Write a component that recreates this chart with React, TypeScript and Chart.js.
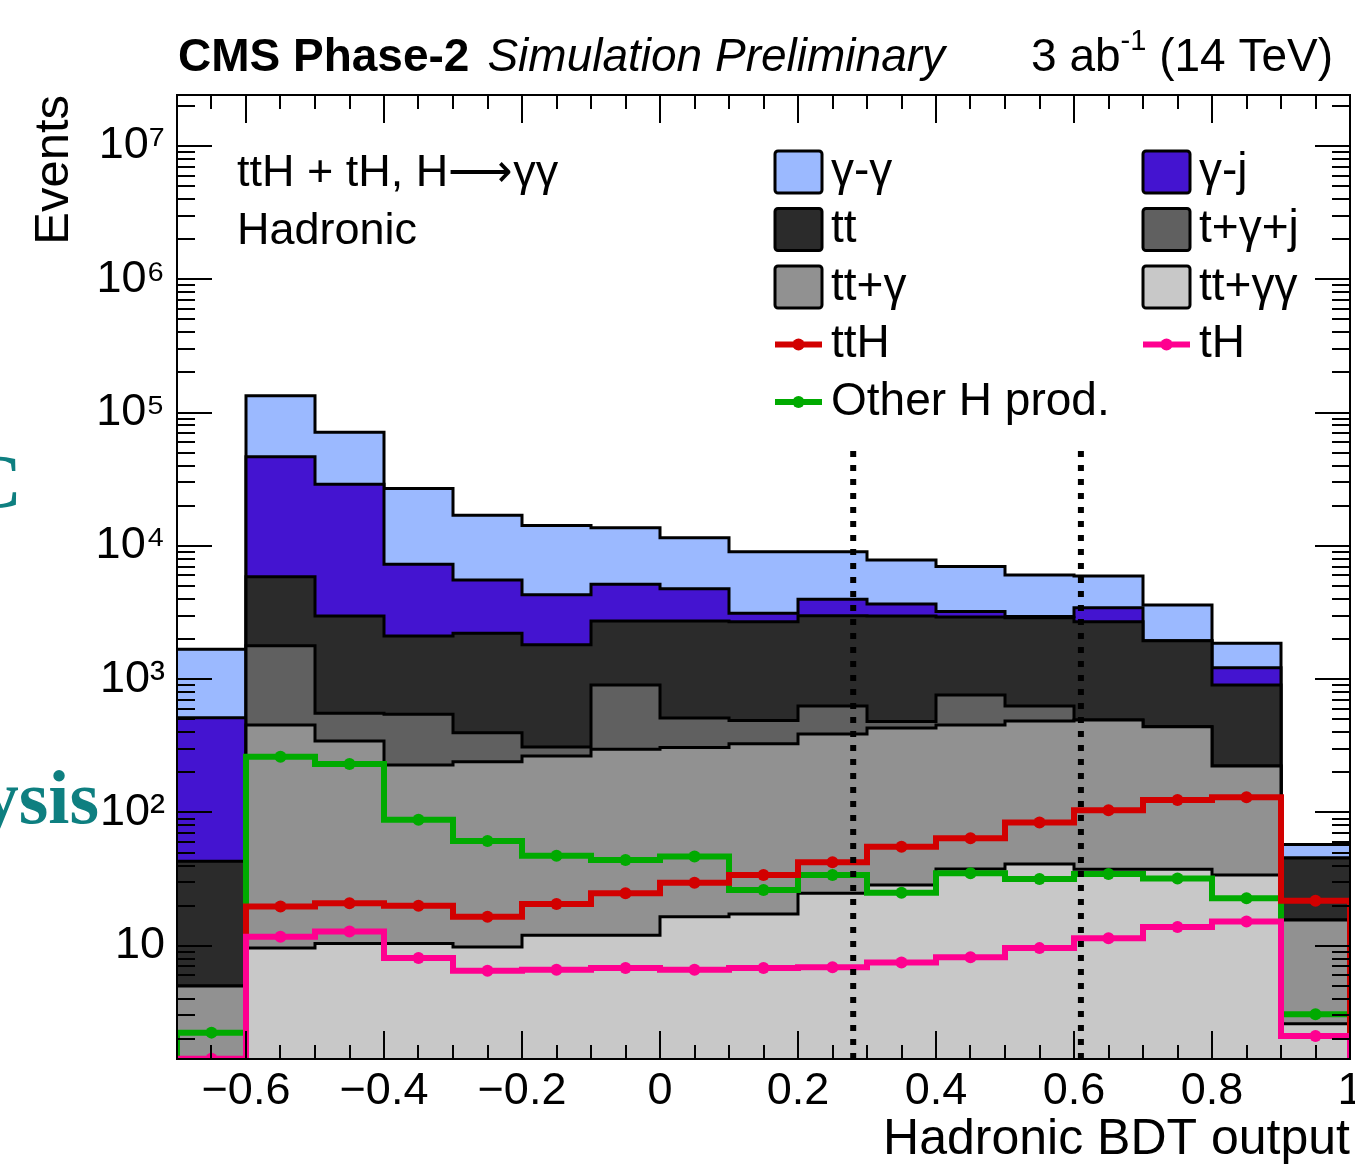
import React, { useEffect, useRef } from 'react';
import { Chart, registerables } from 'chart.js';

Chart.register(...registerables);

const FONT = '"Liberation Sans", Arial, Helvetica, sans-serif';

// ---- binning of the Hadronic BDT output ----
const binEdges = [-0.7, -0.6, -0.5, -0.4, -0.3, -0.2, -0.1, 0, 0.1, 0.2, 0.3, 0.4, 0.5, 0.6, 0.7, 0.8, 0.9, 1.0];
const binCenters = [-0.65, -0.55, -0.45, -0.35, -0.25, -0.15, -0.05, 0.05, 0.15, 0.25, 0.35, 0.45, 0.55, 0.65, 0.75, 0.85, 0.95];

// ---- stacked backgrounds (events / bin), bottom to top ----
const ttGammaGamma = [1, 9.6, 10.4, 10.4, 9.8, 12, 12, 16.5, 17.3, 24.8, 28.6, 37.7, 41, 37.5, 37.5, 34, 2.6];
const ttGamma = [4, 443, 334, 217, 230, 253, 286, 291, 310, 363, 401, 415, 445, 456, 403, 189, 13];
const tGammaJet = [0, 1330, 211, 318, 157, 45, 607, 204, 163, 242, 52, 308, 144, 0, 0, 0, 0];
const ttbar = [38, 4090, 2425, 1565, 1813, 1505, 1830, 2223, 2210, 2365, 2498, 2169, 2263, 2200, 1505, 682, 30];
const gammaJet = [471, 40800, 26000, 5170, 3340, 2490, 2415, 2040, 420, 980, 685, 290, 60, 740, 0, 315, 0];
const gammaGamma = [1161, 87300, 42200, 19700, 11450, 9885, 8550, 6755, 5920, 5065, 4175, 3780, 3100, 2505, 1660, 640, 12];

// ---- signals (events / bin) ----
const ttH = [1, 19.7, 20.8, 20, 16.5, 20.6, 24.8, 29.7, 34, 42.3, 55.4, 64, 84, 104, 124, 130, 21.8];
const tH = [1.42, 11.7, 12.8, 8.1, 6.5, 6.6, 6.8, 6.6, 6.8, 6.9, 7.5, 8.2, 9.6, 11.4, 13.8, 15.2, 2.1];
const otherH = [2.23, 262, 231, 88, 61, 47.4, 44, 46.7, 26.2, 34, 25, 35, 31.7, 34.6, 32, 22.7, 3.06];

// ---- category boundaries (dotted lines) ----
const cutValues = [0.28, 0.61];
const cutTop = 57000;

// ---- axis ticks ----
const yDecades = [10, 100, 1000, 10000, 100000, 1000000, 10000000];
const yDecadeLabels = ['10', '10²', '10³', '10⁴', '10⁵', '10⁶', '10⁷'];
const xTickValues = [-0.6, -0.4, -0.2, 0, 0.2, 0.4, 0.6, 0.8, 1.0];
const xTickLabels = ['−0.6', '−0.4', '−0.2', '0', '0.2', '0.4', '0.6', '0.8', '1'];

const Y_MIN = 1.414;
const Y_MAX = 2.413e7;
const X_MIN = -0.7;
const X_MAX = 1.0;

const stackSeries = [
  { label: 'tt+γγ', values: ttGammaGamma, color: '#c8c8c8' },
  { label: 'tt+γ', values: ttGamma, color: '#919191' },
  { label: 't+γ+j', values: tGammaJet, color: '#606060' },
  { label: 'tt', values: ttbar, color: '#2b2b2b' },
  { label: 'γ-j', values: gammaJet, color: '#4414d0' },
  { label: 'γ-γ', values: gammaGamma, color: '#9bb9ff' },
];

const signalSeries = [
  { label: 'ttH', values: ttH, color: '#d20000', order: 1 },
  { label: 'tH', values: tH, color: '#ff0090', order: 0 },
  { label: 'Other H prod.', values: otherH, color: '#00aa00', order: 2 },
];

// legend entries: label, column, row
const legendEntries: [string, number, number][] = [
  ['γ-γ', 0, 0], ['γ-j', 1, 0],
  ['tt', 0, 1], ['t+γ+j', 1, 1],
  ['tt+γ', 0, 2], ['tt+γγ', 1, 2],
  ['ttH', 0, 3], ['tH', 1, 3],
  ['Other H prod.', 0, 4],
];

function buildDatasets(): any[] {
  const nb = binCenters.length;
  const sets: any[] = [];
  let running = new Array(nb).fill(0);
  stackSeries.forEach((s, k) => {
    running = running.map((r, i) => r + s.values[i]);
    const cum = running.slice();
    sets.push({
      type: 'line',
      label: s.label,
      data: binEdges.map((x, i) => ({ x, y: Math.max(cum[Math.min(i, nb - 1)], 1) })),
      stepped: 'before',
      borderColor: '#000',
      borderWidth: 3,
      borderJoinStyle: 'miter',
      backgroundColor: s.color,
      fill: k === 0 ? 'start' : '-1',
      pointRadius: 0,
      order: 10,
    });
  });
  signalSeries.forEach((s) => {
    const pts = [
      { x: binEdges[0], y: 0.5 },
      { x: binEdges[0], y: s.values[0] },
      ...binCenters.map((x, i) => ({ x, y: s.values[i] })),
      { x: binEdges[nb], y: s.values[nb - 1] },
      { x: binEdges[nb], y: 0.5 },
    ];
    sets.push({
      type: 'line',
      label: s.label,
      data: pts,
      stepped: 'middle',
      borderColor: s.color,
      borderWidth: 6,
      borderJoinStyle: 'miter',
      pointRadius: (c: any) => (c.dataIndex >= 2 && c.dataIndex <= nb + 1 ? 6 : 0),
      pointBackgroundColor: s.color,
      pointBorderWidth: 0,
      fill: false,
      order: s.order,
    });
  });
  cutValues.forEach((cx) => {
    sets.push({
      type: 'line',
      label: 'cut',
      data: [{ x: cx, y: Y_MIN }, { x: cx, y: cutTop }],
      borderColor: '#000',
      borderWidth: 6,
      borderDash: [6, 8],
      pointRadius: 0,
      fill: false,
      order: -1,
    });
  });
  return sets;
}

const framePlugin = {
  id: 'rootFrame',
  afterDatasetsDraw(chart: any) {
    const { ctx, chartArea } = chart;
    const { left, right, top, bottom } = chartArea;
    const xs = chart.scales.x;
    const ys = chart.scales.y;
    ctx.save();
    ctx.strokeStyle = '#000';
    ctx.lineWidth = 2;
    ctx.beginPath();
    for (let e = 0; e <= 8; e++) {
      for (let k = 1; k <= 9; k++) {
        const v = k * Math.pow(10, e);
        if (v < Y_MIN || v > Y_MAX) continue;
        const py = Math.round(ys.getPixelForValue(v));
        const len = k === 1 ? 35 : 18;
        ctx.moveTo(left, py);
        ctx.lineTo(left + len, py);
        ctx.moveTo(right, py);
        ctx.lineTo(right - len, py);
      }
    }
    for (let i = -14; i <= 20; i++) {
      const v = i * 0.05;
      const px = Math.round(xs.getPixelForValue(v));
      const len = i % 4 === 0 ? 28 : 14;
      ctx.moveTo(px, bottom);
      ctx.lineTo(px, bottom - len);
      ctx.moveTo(px, top);
      ctx.lineTo(px, top + len);
    }
    ctx.stroke();
    ctx.strokeRect(left, top, right - left, bottom - top);
    ctx.restore();
  },
};

const colorOf = (label: string) => {
  const s = stackSeries.find((q) => q.label === label);
  if (s) return { color: s.color, kind: 'box' };
  const g = signalSeries.find((q) => q.label === label);
  return { color: g ? g.color : '#000', kind: 'line' };
};

const textPlugin = {
  id: 'cmsText',
  afterDraw(chart: any) {
    const ctx = chart.ctx;
    ctx.save();
    ctx.fillStyle = '#000';
    ctx.textAlign = 'left';
    ctx.textBaseline = 'alphabetic';

    // header
    ctx.font = `bold 46px ${FONT}`;
    ctx.fillText('CMS Phase-2', 178, 71);
    const w1 = ctx.measureText('CMS Phase-2').width;
    ctx.font = `italic 46px ${FONT}`;
    ctx.fillText('Simulation Preliminary', 178 + w1 + 18, 71);

    const big = `46px ${FONT}`;
    const small = `29px ${FONT}`;
    ctx.font = big;
    const wa = ctx.measureText('3 ab').width;
    const wc = ctx.measureText(' (14 TeV)').width;
    ctx.font = small;
    const wb = ctx.measureText('-1').width;
    let xs = 1333 - (wa + wb + wc);
    ctx.font = big;
    ctx.fillText('3 ab', xs, 71);
    xs += wa;
    ctx.font = small;
    ctx.fillText('-1', xs, 50);
    xs += wb;
    ctx.font = big;
    ctx.fillText(' (14 TeV)', xs, 71);

    // in-plot labels
    ctx.font = `45px ${FONT}`;
    ctx.fillText('ttH + tH, H⟶γγ', 237, 186);
    ctx.fillText('Hadronic', 237, 244);

    // legend
    const colX = [775, 1143];
    ctx.font = `46px ${FONT}`;
    ctx.textBaseline = 'middle';
    legendEntries.forEach(([label, col, row]) => {
      const x0 = colX[col];
      const yc = 172 + row * 57.5;
      const info = colorOf(label);
      if (info.kind === 'box') {
        ctx.fillStyle = info.color;
        ctx.strokeStyle = '#000';
        ctx.lineWidth = 3;
        ctx.beginPath();
        if (ctx.roundRect) ctx.roundRect(x0, yc - 21, 47, 42, 3);
        else ctx.rect(x0, yc - 21, 47, 42);
        ctx.fill();
        ctx.stroke();
      } else {
        ctx.strokeStyle = info.color;
        ctx.lineWidth = 6;
        ctx.beginPath();
        ctx.moveTo(x0, yc);
        ctx.lineTo(x0 + 47, yc);
        ctx.stroke();
        ctx.fillStyle = info.color;
        ctx.beginPath();
        ctx.arc(x0 + 23.5, yc, 6, 0, Math.PI * 2);
        ctx.fill();
      }
      ctx.fillStyle = '#000';
      ctx.fillText(label, x0 + 56, yc);
    });

    // fragments of the surrounding page visible at the left edge
    ctx.fillStyle = '#0e7f80';
    ctx.textAlign = 'right';
    ctx.textBaseline = 'alphabetic';
    ctx.font = 'bold 76px "Liberation Serif", "DejaVu Serif", serif';
    ctx.fillText('C', 22, 507);
    ctx.fillText('ysis', 99, 823);
    ctx.restore();
  },
};

export default function App() {
  const ref = useRef<HTMLCanvasElement | null>(null);

  useEffect(() => {
    if (!ref.current) return;
    const chart = new Chart(ref.current, {
      type: 'line',
      data: { datasets: buildDatasets() },
      options: {
        responsive: false,
        animation: false,
        devicePixelRatio: 1,
        events: [],
        layout: { padding: { top: 95, right: 5, left: 0, bottom: 0 }, autoPadding: false } as any,
        plugins: {
          legend: { display: false },
          tooltip: { enabled: false },
          title: { display: false },
        },
        scales: {
          x: {
            type: 'linear',
            min: X_MIN,
            max: X_MAX,
            afterFit: (s: any) => {
              s.height = 111;
              s.paddingLeft = 0;
              s.paddingRight = 0;
            },
            grid: { display: false, drawTicks: false },
            border: { display: false },
            ticks: {
              stepSize: 0.2,
              includeBounds: false,
              autoSkip: false,
              maxRotation: 0,
              minRotation: 0,
              padding: 6,
              color: '#000',
              font: { family: FONT, size: 45 },
              callback: (v: any) => {
                const idx = xTickValues.findIndex((t) => Math.abs(t - Number(v)) < 1e-6);
                return idx >= 0 ? xTickLabels[idx] : '';
              },
            },
            title: {
              display: true,
              text: 'Hadronic BDT output',
              align: 'end',
              color: '#000',
              font: { family: FONT, size: 50, lineHeight: 1 },
              padding: { top: 0, bottom: 5 },
            },
          },
          y: {
            type: 'logarithmic',
            min: Y_MIN,
            max: Y_MAX,
            afterFit: (s: any) => {
              s.width = 177;
              s.paddingTop = 0;
              s.paddingBottom = 0;
            },
            grid: { display: false, drawTicks: false },
            border: { display: false },
            ticks: {
              autoSkip: false,
              padding: 12,
              color: '#000',
              font: { family: FONT, size: 45 },
              callback: (v: any) => {
                const n = Number(v);
                const idx = yDecades.findIndex((d) => Math.abs(n - d) / d < 1e-6);
                return idx >= 0 ? yDecadeLabels[idx] : '';
              },
            },
            title: {
              display: true,
              text: 'Events',
              align: 'end',
              color: '#000',
              font: { family: FONT, size: 49, lineHeight: 1 },
              padding: { top: 30, bottom: 0 },
            },
          },
        },
      } as any,
      plugins: [framePlugin, textPlugin],
    });
    return () => chart.destroy();
  }, []);

  return (
    <div style={{ position: 'fixed', left: 0, top: 0, width: 1355, height: 1170, background: '#fff' }}>
      <canvas ref={ref} width={1355} height={1170} style={{ display: 'block' }} />
    </div>
  );
}
